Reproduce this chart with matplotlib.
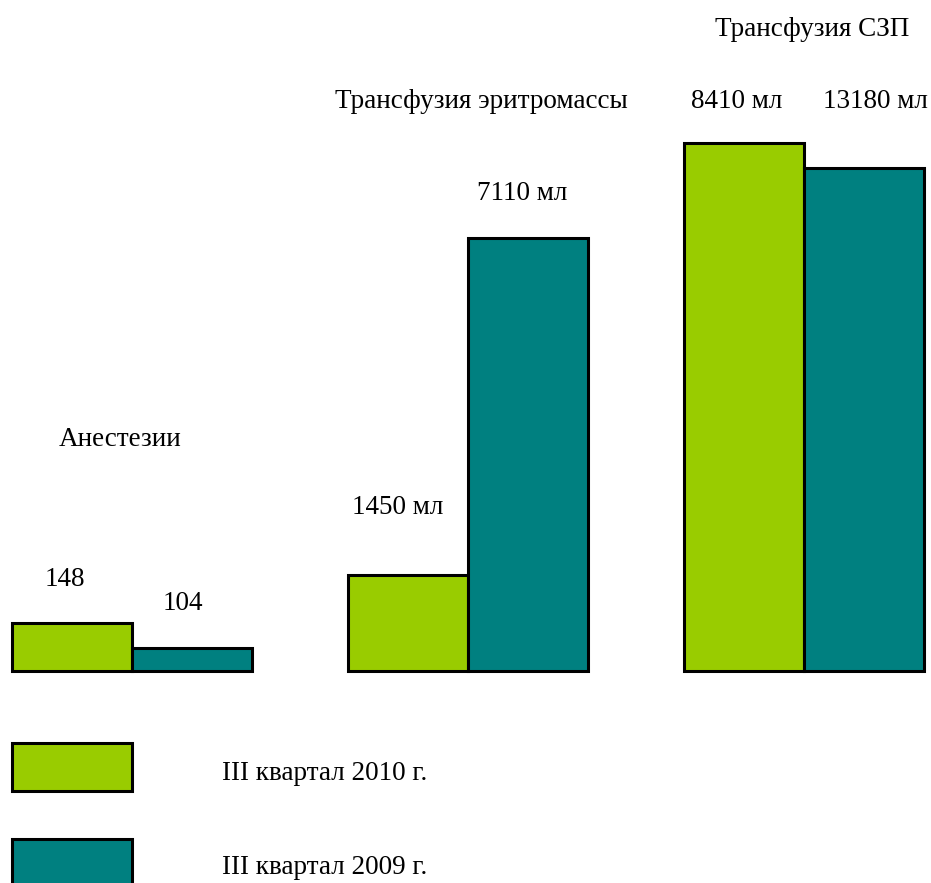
import matplotlib
matplotlib.use("Agg")
import matplotlib.pyplot as plt
from matplotlib.patches import Rectangle

# Data (bar heights as drawn in the picture, arbitrary units; labels carry the real values)
categories = ["Анестезии", "Трансфузия эритромассы", "Трансфузия СЗП"]
series_names = ["III квартал 2010 г.", "III квартал 2009 г."]
heights_2010 = [48, 96, 528]
heights_2009 = [23, 433, 503]
labels_2010 = ["148", "1450 мл", "8410 мл"]
labels_2009 = ["104", "7110 мл", "13180 мл"]

GREEN = "#99CC00"
TEAL = "#008080"
plt.rcParams['font.family'] = ['Liberation Serif', 'DejaVu Serif']

fig = plt.figure(figsize=(9.31, 8.83), dpi=100)
ax = fig.add_axes([0, 0, 1, 1])
ax.set_xlim(0, 931)
ax.set_ylim(-212, 671)
ax.axis('off')

centers = [132 + 336 * i for i in range(3)]
bw = 120
x2010 = [c - bw / 2 for c in centers]
x2009 = [c + bw / 2 for c in centers]
ax.bar(x2010, heights_2010, width=bw, color=GREEN, edgecolor='black', linewidth=2.2)
ax.bar(x2009, heights_2009, width=bw, color=TEAL, edgecolor='black', linewidth=2.2)

fs = 19.5
# value labels (offsets relative to each bar's centre/top)
offs_2010 = [(-7, 44), (-10, 68), (-7, 41)]
offs_2009 = [(-9, 44), (-6, 44), (11, 66)]
for i in range(3):
    dx, dy = offs_2010[i]
    ax.text(x2010[i] + dx, heights_2010[i] + dy, labels_2010[i], ha='center', va='center', fontsize=fs)
    dx, dy = offs_2009[i]
    ax.text(x2009[i] + dx, heights_2009[i] + dy, labels_2009[i], ha='center', va='center', fontsize=fs)

# category titles
cat_pos = [(120, 671 - 439), (481, 671 - 102), (812, 671 - 29)]
for name, (x, y) in zip(categories, cat_pos):
    ax.text(x, y, name, ha='center', va='center', fontsize=fs)

# legend
ax.add_patch(Rectangle((12, 671 - 791), 120, 48, facecolor=GREEN, edgecolor='black',
                       linewidth=2.2, clip_on=False))
ax.add_patch(Rectangle((12, 671 - 890), 120, 51, facecolor=TEAL, edgecolor='black',
                       linewidth=2.2, clip_on=False))
ax.text(222, 671 - 774, series_names[0], ha='left', va='center', fontsize=fs)
ax.text(222, 671 - 868, series_names[1], ha='left', va='center', fontsize=fs)

fig.savefig("out.png", dpi=100)
